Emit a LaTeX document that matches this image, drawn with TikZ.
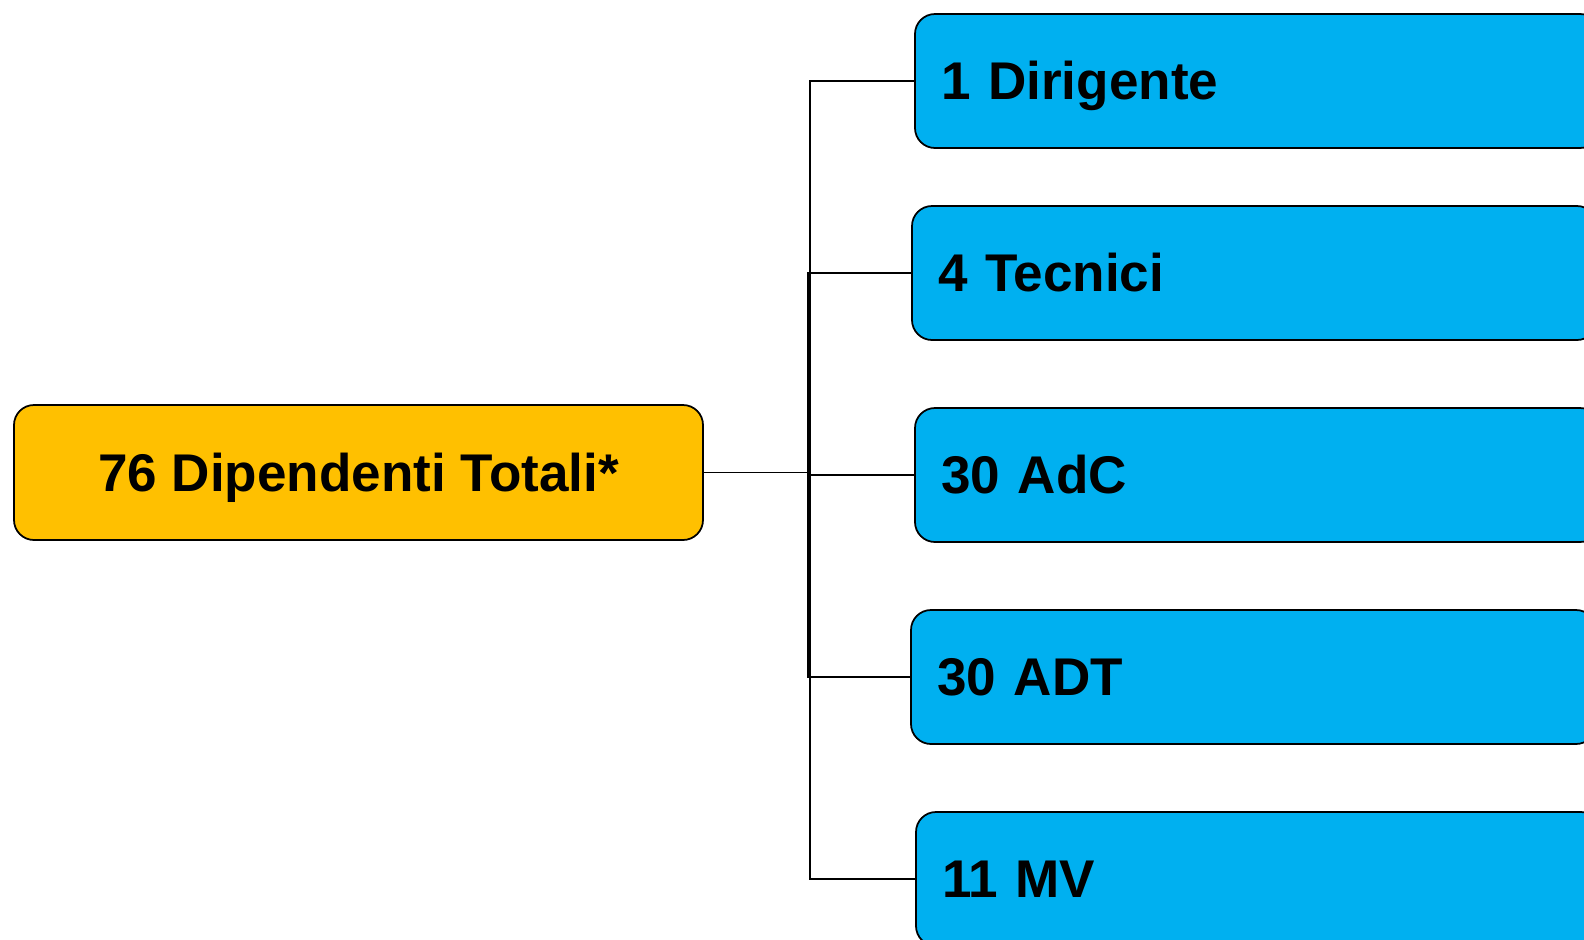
\documentclass[tikz,border=0pt]{standalone}
\usepackage{fontspec}
\setmainfont{Liberation Sans}
\usetikzlibrary{positioning}
\definecolor{rootyellow}{HTML}{FFC000}
\definecolor{childblue}{HTML}{00B0F0}
\begin{document}
\begin{tikzpicture}[node distance=4.04cm,
  box/.style={draw, line width=1pt, rounded corners=0.4cm, font=\fontsize{30.2}{36}\selectfont\bfseries, text height=21.6pt, text depth=0pt},
  rootbox/.style={box, fill=rootyellow, minimum width=13.78cm, minimum height=2.7cm},
  childbox/.style={box, fill=childblue, minimum width=13.7cm, minimum height=2.68cm, inner xsep=0.52cm, text width=12.66cm, align=left},
  link/.style={draw, line width=1pt}]

  \useasboundingbox (0,0) rectangle (31.68,-18.78);

  % Root
  \node[rootbox] (root) at (7.17,-9.45) {76 Dipendenti Totali*};

  % Children
  \node[childbox] (c1) at (25.15,-1.62) {1 Dirigente};
  \node[childbox, below of=c1, xshift=-0.06cm, yshift=0.2cm] (c2) {4 Tecnici};
  \node[childbox, below of=c2, xshift=0.06cm] (c3) {30 AdC};
  \node[childbox, below of=c3, xshift=-0.08cm] (c4) {30 ADT};
  \node[childbox, below of=c4, xshift=0.1cm] (c5) {11 MV};

  % Trunk
  \coordinate[right=2.12cm of root.east] (trunk);
  \coordinate[right=2.08cm of root.east] (trunk2);

  % Elbow links
  \foreach \c in {c1,c3,c5}
    \draw[link] (root.east) -- (trunk) |- (\c.west);
  \foreach \c in {c2,c4}
    \draw[link] (root.east) -- (trunk2) |- (\c.west);

\end{tikzpicture}
\end{document}
